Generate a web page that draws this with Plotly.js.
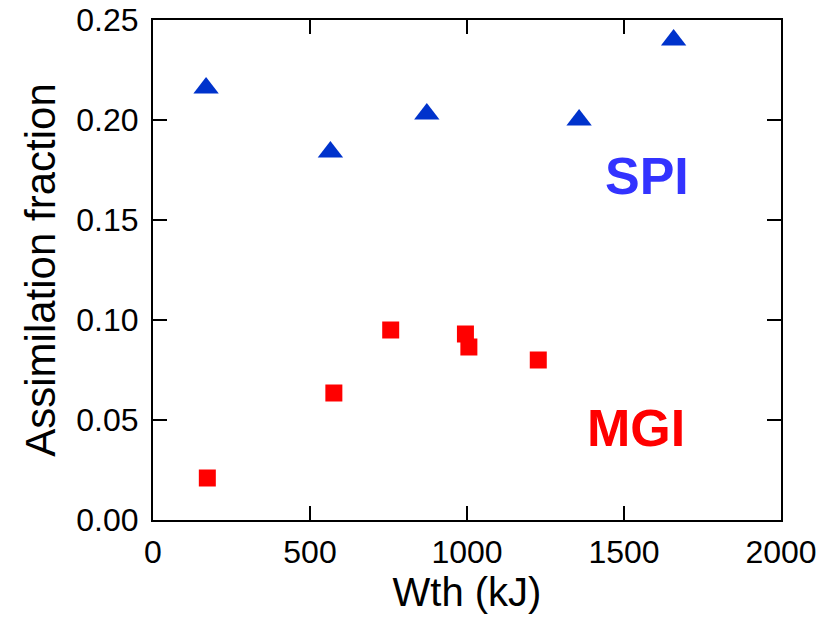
<!DOCTYPE html>
<html>
<head>
<meta charset="utf-8">
<script src="https://cdn.plot.ly/plotly-3.0.1.min.js"></script>
<style>html,body{margin:0;padding:0;background:#fff;}#chart{width:821px;height:620px;}</style>
</head>
<body>
<div id="chart"></div>
<script>
// SPI data (triangles)
var spiWth = [169, 565, 872, 1357, 1658];
var spiFrac = [0.216, 0.184, 0.203, 0.200, 0.240];
// MGI data (squares)
var mgiWth = [173, 576, 757, 995, 1006, 1227];
var mgiFrac = [0.021, 0.0635, 0.095, 0.093, 0.0865, 0.080];

var xTicks = [0, 500, 1000, 1500, 2000];
var yTicks = [0, 0.05, 0.10, 0.15, 0.20, 0.25];
var yTickText = ['0.00', '0.05', '0.10', '0.15', '0.20', '0.25'];

var FONT = 'Liberation Sans, Arial, sans-serif';

var traces = [
  {
    x: spiWth, y: spiFrac, type: 'scatter', mode: 'markers', name: 'SPI',
    marker: {symbol: 'triangle-up', size: 22, color: '#0033cc'},
    cliponaxis: false
  },
  {
    x: mgiWth, y: mgiFrac, type: 'scatter', mode: 'markers', name: 'MGI',
    marker: {symbol: 'square', size: 17, color: '#ff0000'},
    cliponaxis: false
  }
];

var axisCommon = {
  showline: true, linecolor: '#000', linewidth: 2, mirror: 'ticks',
  ticks: 'inside', ticklen: 14, tickwidth: 2, tickcolor: '#000',
  showgrid: false, zeroline: false,
  tickfont: {family: FONT, size: 32, color: '#000'}
};

var layout = {
  width: 821, height: 620,
  margin: {l: 153, r: 40, t: 20, b: 100},
  paper_bgcolor: '#fff', plot_bgcolor: '#fff',
  showlegend: false,
  font: {family: FONT, color: '#000'},
  xaxis: Object.assign({}, axisCommon, {
    range: [0, 2000], tickmode: 'array', tickvals: xTicks,
    ticklabelstandoff: 3,
    title: {text: 'Wth (kJ)', font: {family: FONT, size: 40, color: '#000'}, standoff: 8}
  }),
  yaxis: Object.assign({}, axisCommon, {
    range: [0, 0.25], tickmode: 'array', tickvals: yTicks, ticktext: yTickText,
    ticklabelstandoff: 6,
    title: {text: 'Assimilation fraction', font: {family: FONT, size: 42, color: '#000'}, standoff: 8}
  }),
  annotations: [
    {x: 1574, y: 0.172, xref: 'x', yref: 'y', text: '<b>SPI</b>', showarrow: false,
     font: {family: FONT, size: 52, color: '#3333ff'}},
    {x: 1539, y: 0.046, xref: 'x', yref: 'y', text: '<b>MGI</b>', showarrow: false,
     font: {family: FONT, size: 52, color: '#ff0000'}}
  ]
};

Plotly.newPlot('chart', traces, layout, {displayModeBar: false, staticPlot: true});
</script>
</body>
</html>
